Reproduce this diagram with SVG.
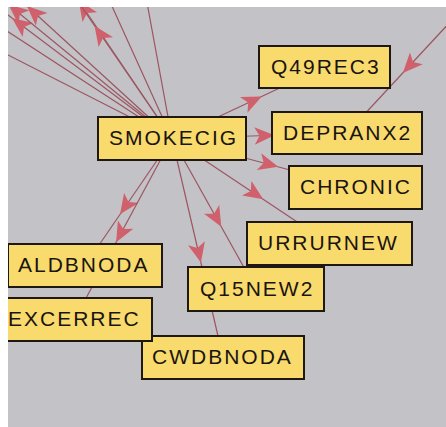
<svg xmlns="http://www.w3.org/2000/svg" width="446" height="427" viewBox="0 0 446 427">
  <defs>
    <!-- arrowhead placed at the middle of each edge, pointing to the child -->
    <marker id="arrow" markerUnits="userSpaceOnUse" markerWidth="20" markerHeight="18" viewBox="0 0 16 14" refX="4" refY="7" orient="auto">
      <path d="M0,0 L16,7 L0,14 L4,7 z" fill="#d0606c"/>
    </marker>
  </defs>
  <style>
    .edge { fill: none; stroke: #9c5560; stroke-width: 1.2; marker-mid: url(#arrow); }
    .box { fill: #f8db6c; stroke: #1e1810; stroke-width: 2; }
    .label { font-family: "Liberation Sans", Arial, sans-serif; font-size: 21px; letter-spacing: 2px; fill: #1a1410; }
  </style>

  <!-- panel background -->
  <rect x="0" y="0" width="446" height="427" fill="#c3c3c7"/>

  <g id="connectors">
    <!-- edges to nodes beyond the upper-left of the panel -->
    <path class="edge" d="M172,138.5 L-33,34 L-238,-70"/>
    <path class="edge" d="M172,138.5 L-8.5,21 L-189,-96"/>
    <path class="edge" d="M172,138.5 L24,27 L-124,-84.5"/>
    <path class="edge" d="M172,138.5 L20,14 L-132,-110.5"/>
    <path class="edge" d="M172,138.5 L38,16 L-96,-106.5"/>
    <path class="edge" d="M172,138.5 L87,13 L2,-112.5"/>
    <path class="edge" d="M172,138.5 L103,38 L34,-62.5"/>
    <path class="edge" d="M172,138.5 L98,-24.6 L24.5,-187.75"/>
    <path class="edge" d="M172,138.5 L142,-24.6 L112,-187.75"/>
    <!-- SMOKECIG to its visible children -->
    <path class="edge" d="M172,138.5 L248.25,102.75 L324.5,67"/>
    <path class="edge" d="M172,138.5 L259.5,135.75 L347,133"/>
    <path class="edge" d="M172,138.5 L263.75,163 L355.5,187.5"/>
    <path class="edge" d="M172,138.5 L250.75,191 L329.5,243.5"/>
    <path class="edge" d="M172,138.5 L214,213.75 L256,289"/>
    <path class="edge" d="M172,138.5 L197.5,248 L223,357.5"/>
    <path class="edge" d="M172,138.5 L128.5,202 L85,265.5"/>
    <path class="edge" d="M172,138.5 L123.25,229 L74.5,319.5"/>
    <!-- edge from a node beyond the upper-right into DEPRANX2 -->
    <path class="edge" d="M479,-9 L413,62 L347,133"/>
  </g>

  <g id="SMOKECIG">
    <rect class="box" x="98" y="117" width="148" height="43"/>
    <text class="label" x="109" y="145">SMOKECIG</text>
  </g>
  <g id="Q49REC3">
    <rect class="box" x="259" y="46" width="131" height="42"/>
    <text class="label" x="271" y="74">Q49REC3</text>
  </g>
  <g id="DEPRANX2">
    <rect class="box" x="272" y="112" width="150" height="42"/>
    <text class="label" x="283" y="140">DEPRANX2</text>
  </g>
  <g id="CHRONIC">
    <rect class="box" x="289" y="166" width="133" height="43"/>
    <text class="label" x="300" y="194">CHRONIC</text>
  </g>
  <g id="URRURNEW">
    <rect class="box" x="247" y="222" width="165" height="43"/>
    <text class="label" x="258" y="250">URRURNEW</text>
  </g>
  <g id="Q15NEW2">
    <rect class="box" x="188" y="267" width="136" height="44"/>
    <text class="label" x="200" y="296">Q15NEW2</text>
  </g>
  <g id="CWDBNODA">
    <rect class="box" x="142" y="336" width="162" height="43"/>
    <text class="label" x="152" y="364">CWDBNODA</text>
  </g>
  <g id="ALDBNODA">
    <rect class="box" x="8" y="244" width="154" height="43"/>
    <text class="label" x="18" y="272">ALDBNODA</text>
  </g>
  <g id="EXCERREC">
    <rect class="box" x="-3" y="298" width="155" height="43"/>
    <text class="label" x="8" y="326">EXCERREC</text>
  </g>

  <!-- white margin along the top and left edges -->
  <rect x="0" y="0" width="446" height="7" fill="#ffffff"/>
  <rect x="0" y="0" width="8" height="427" fill="#ffffff"/>
</svg>
